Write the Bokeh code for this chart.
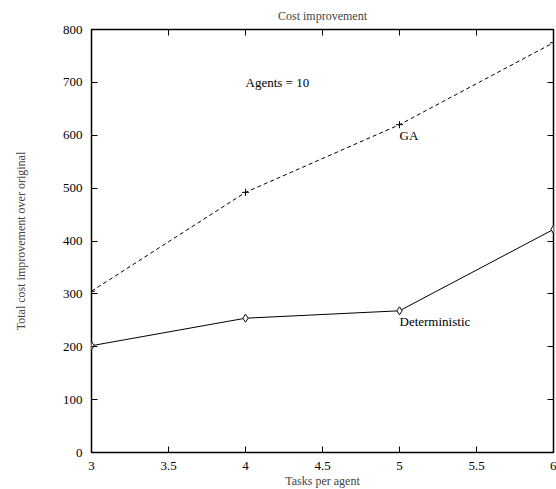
from bokeh.plotting import figure
from bokeh.models import LinearAxis, Range1d, FixedTicker, ColumnDataSource, CustomJSTickFormatter
from bokeh.core.properties import value
from bokeh.embed import file_html
from bokeh.resources import INLINE

tasks = [3, 4, 5, 6]
ga = [305, 492, 620, 775]
deterministic = [202, 254, 268, 422]
x_ticks = [3, 3.5, 4, 4.5, 5, 5.5, 6]
y_ticks = [0, 100, 200, 300, 400, 500, 600, 700, 800]
note_x = [4.0, 5.0, 5.0]
note_y = [700, 600, 248]
note_text = ["Agents = 10", "GA", "Deterministic"]

FONT = "Liberation Serif"

p = figure(frame_width=462, frame_height=423, output_backend="svg", toolbar_location=None,
           x_range=Range1d(3, 6), y_range=Range1d(0, 800),
           min_border_left=91, min_border_right=3, min_border_top=29, min_border_bottom=37,
           x_axis_location=None, y_axis_location=None)
p.title.text = "Cost improvement"
p.title.align = "center"
p.title.text_font = FONT
p.title.text_font_style = "normal"
p.title.text_font_size = "12px"
p.title.standoff = 13
p.grid.visible = False
p.outline_line_color = "black"
p.outline_line_width = 1.5

blank = CustomJSTickFormatter(code="return '';")

def style(ax, labels=True):
    ax.major_tick_in = 6
    ax.major_tick_out = 0
    ax.minor_tick_line_color = None
    ax.axis_line_color = None
    ax.major_tick_line_color = "black"
    ax.major_label_text_font = FONT
    ax.major_label_text_font_size = "13px"
    ax.major_label_text_color = "black"
    ax.axis_label_text_font = FONT
    ax.axis_label_text_font_style = "normal"
    ax.axis_label_text_font_size = "12px"
    if not labels:
        ax.formatter = blank
        ax.major_label_standoff = 0

xb = LinearAxis(ticker=FixedTicker(ticks=x_ticks), axis_label="Tasks per agent")
style(xb)
xb.major_label_standoff = 9
xb.axis_label_standoff = 1
xt = LinearAxis(ticker=FixedTicker(ticks=x_ticks))
style(xt, False)
yl = LinearAxis(ticker=FixedTicker(ticks=y_ticks), axis_label="Total cost improvement over original")
style(yl)
yl.major_label_standoff = 9
yl.axis_label_standoff = 32
yr = LinearAxis(ticker=FixedTicker(ticks=y_ticks))
style(yr, False)
p.add_layout(xb, "below")
p.add_layout(xt, "above")
p.add_layout(yl, "left")
p.add_layout(yr, "right")

p.line(tasks, ga, line_color="black", line_width=1, line_dash="4 3")
p.scatter(tasks, ga, marker="cross", size=7, line_color="black", line_width=1)
p.line(tasks, deterministic, line_color="black", line_width=1)
p.scatter(tasks, deterministic, marker="diamond", size=8, line_color="black",
          fill_color="white", line_width=1)

src = ColumnDataSource(dict(x=note_x, y=note_y, t=note_text))
p.text(x="x", y="y", text="t", source=src, text_font=value(FONT),
       text_font_size="13px", text_baseline="middle", text_align="left", text_color="black")

open("out.html", "w").write(file_html(p, INLINE))
